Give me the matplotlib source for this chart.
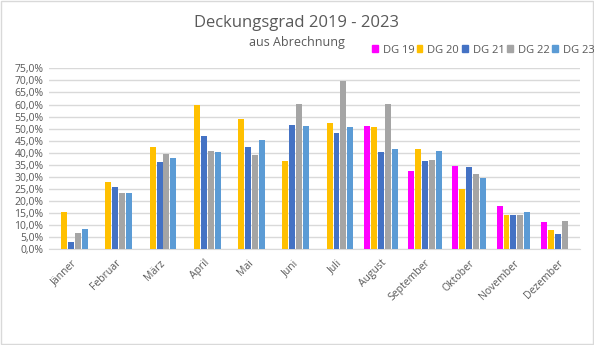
import numpy as np
import matplotlib
matplotlib.use("Agg")
import matplotlib.pyplot as plt
from matplotlib.patches import Rectangle, Patch
from matplotlib.ticker import FuncFormatter

months = ["Jänner", "Februar", "März", "April", "Mai", "Juni", "Juli",
          "August", "September", "Oktober", "November", "Dezember"]
series_names = ["DG 19", "DG 20", "DG 21", "DG 22", "DG 23"]
dg19 = [np.nan, np.nan, np.nan, np.nan, np.nan, np.nan, np.nan, 51.1, 32.4, 34.5, 17.9, 11.3]
dg20 = [15.5, 27.9, 42.4, 59.9, 54.0, 36.6, 52.3, 50.7, 41.5, 25.0, 14.2, 8.0]
dg21 = [3.0, 25.8, 36.2, 47.0, 42.4, 51.5, 48.2, 40.3, 36.6, 34.1, 14.2, 6.3]
dg22 = [6.8, 23.5, 39.5, 40.8, 39.1, 60.2, 69.8, 60.2, 37.0, 31.2, 14.2, 11.7]
dg23 = [8.5, 23.5, 37.8, 40.3, 45.3, 51.1, 50.7, 41.5, 40.7, 29.5, 15.5, np.nan]
colors = ["#FF00FF", "#FFC000", "#4472C4", "#A5A5A5", "#5B9BD5"]

plt.rcParams['font.family'] = ['Open Sans', 'DejaVu Sans']

fig = plt.figure(figsize=(5.94, 3.45), dpi=100)
fig.patches.append(Rectangle((0.001, 0.002), 0.997, 0.995, transform=fig.transFigure,
                             fill=False, edgecolor="#D9D9D9", lw=1))
ax = fig.add_axes([0.0825, 0.2774, 0.8935, 0.5246])

x = np.arange(len(months))
slot = 0.156
bw = 0.135
data = [dg19, dg20, dg21, dg22, dg23]
for i, (vals, c) in enumerate(zip(data, colors)):
    ax.bar(x + (i - 2) * slot, vals, width=bw, color=c, label=series_names[i], zorder=3)

ax.set_xlim(-0.5, len(months) - 0.5)
ax.set_ylim(0, 75)
ax.set_yticks(np.arange(0, 76, 5))
ax.yaxis.set_major_formatter(FuncFormatter(lambda v, p: f"{v:.1f}".replace(".", ",") + "%"))
ax.grid(axis="y", color="#D9D9D9", lw=1, zorder=0)
for s in ["top", "right", "left"]:
    ax.spines[s].set_visible(False)
ax.spines["bottom"].set_color("#D9D9D9")
ax.tick_params(axis="both", length=0, colors="#595959", labelsize=7.5)
ax.tick_params(axis="y", pad=4)
ax.set_xticks(x)
ax.set_xticklabels(months, rotation=45, ha="right", rotation_mode="anchor")
ax.tick_params(axis="x", pad=6)

fig.text(0.5, 0.933, "Deckungsgrad 2019 - 2023", ha="center", va="center",
         fontsize=12, color="#595959")
fig.text(0.5, 0.876, "aus Abrechnung", ha="center", va="center",
         fontsize=9, color="#595959")

handles = [Patch(color=c) for c in colors]
fig.legend(handles, series_names, loc="center right", bbox_to_anchor=(1.012, 0.855),
           ncol=5, frameon=False, fontsize=8, handlelength=0.5, handleheight=0.5,
           handletextpad=0.45, columnspacing=0.25, borderaxespad=0.2,
           labelcolor="#595959")

fig.savefig("out.png", dpi=100)
